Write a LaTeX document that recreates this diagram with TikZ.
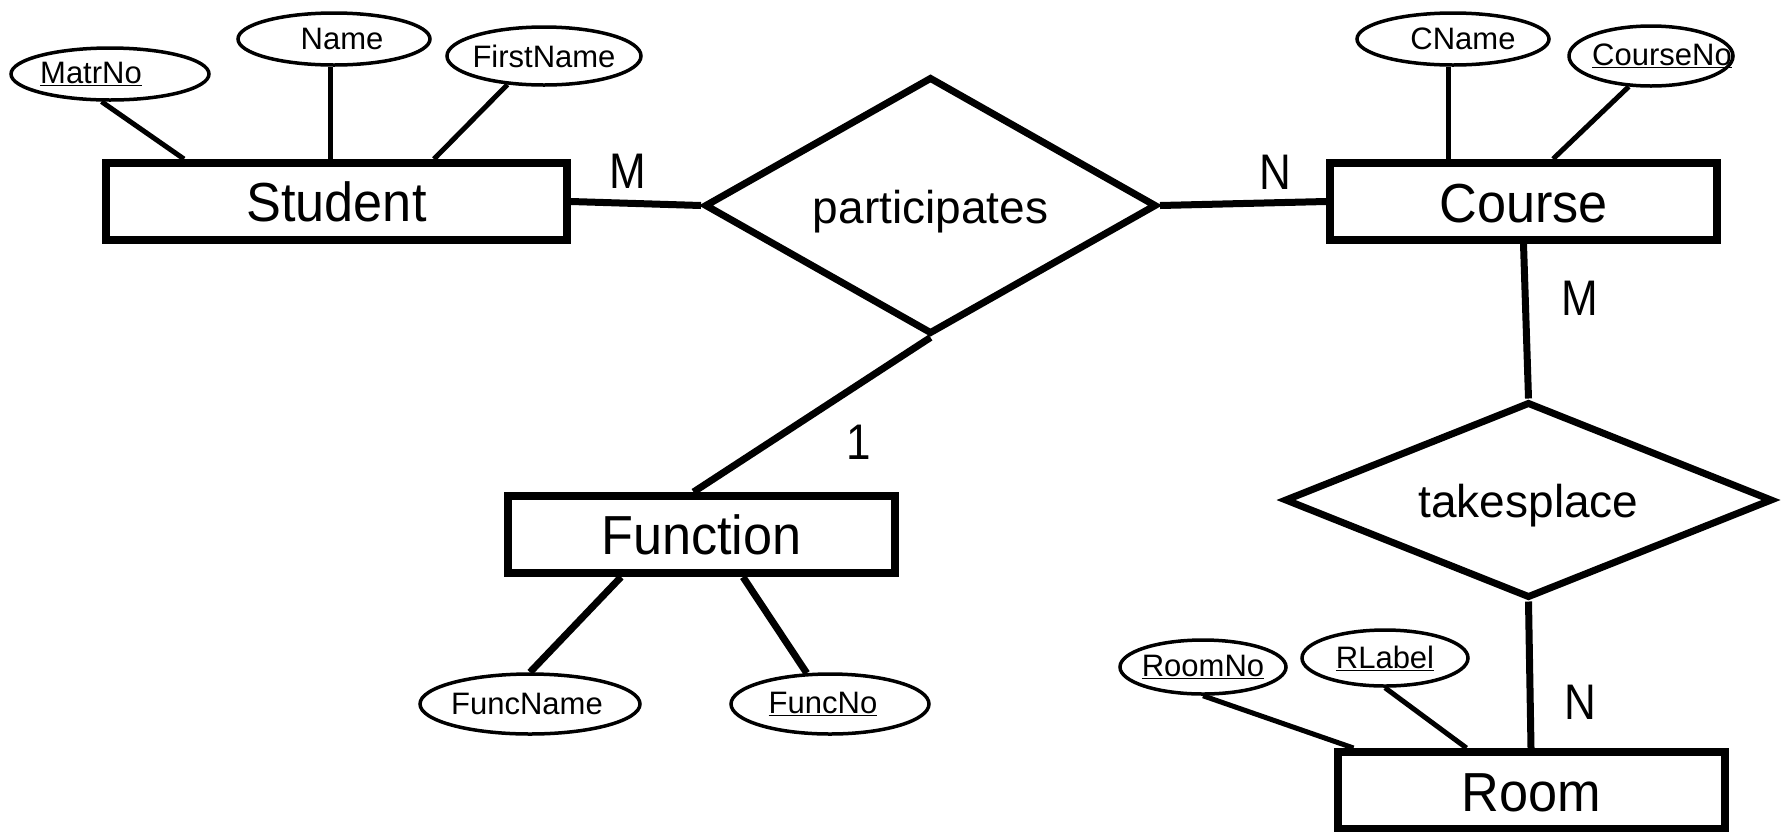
\documentclass[tikz,border=0pt]{standalone}
\usepackage{fontspec}
\setmainfont{Liberation Sans}
\newfontfamily\entfont[FakeStretch=0.95]{Liberation Sans}
\newfontfamily\cardfont[FakeStretch=0.88]{Liberation Sans}
\usetikzlibrary{shapes.geometric}
\newcommand{\nz}[1]{\makebox[0pt]{#1}}
\newcommand{\lowr}[2]{\raisebox{-#1}[\height][\depth]{#2}}
\begin{document}
\begin{tikzpicture}[x=1pt,y=-1pt,
 entity/.style={draw, line width=8pt, minimum width=387pt, minimum height=77pt, inner sep=0pt, font=\entfont\fontsize{55}{60}\selectfont},
 rel/.style={draw, diamond, line width=7pt, inner sep=0pt, font=\fontsize{46}{50}\selectfont},
 attr/.style={draw, ellipse, line width=3.5pt, inner sep=0pt, font=\fontsize{31}{34}\selectfont},
 conn/.style={line width=7pt},
 aconn/.style={line width=5pt},
 fconn/.style={line width=7pt},
 card/.style={font=\cardfont\fontsize{50}{54}\selectfont, inner sep=0pt}]
\useasboundingbox (0,0) rectangle (1785,831);
\clip (0,0) rectangle (1785,831);

% entities
\node[entity, minimum width=461pt] (student) at (336.5,201.5) {Student};
\node[entity] (course) at (1523.5,201.5) {\lowr{2pt}{Course}};
\node[entity] (function) at (701.5,534.5) {Function};
\node[entity] (room) at (1531,790.5) {\lowr{2pt}{Room}};

% relationships
\node[rel, minimum width=452pt, minimum height=257pt, aspect=1.8] (part) at (930.5,205.5) {\lowr{6pt}{participates}};
\node[rel, minimum width=488pt, minimum height=196pt, aspect=2.5] (takes) at (1528.5,500) {\lowr{6pt}{takesplace}};

% attributes
\node[attr, minimum width=198pt, minimum height=52pt] (matrno) at (110,74) {\nz{\hspace{-38pt}\underline{MatrNo}}};
\node[attr, minimum width=192pt, minimum height=52pt] (name) at (334,39) {\nz{\hspace{16pt}Name}};
\node[attr, minimum width=194pt, minimum height=58pt] (firstname) at (544,56) {\nz{FirstName}};
\node[attr, minimum width=192pt, minimum height=52pt] (cname) at (1453,39) {\nz{\hspace{20pt}CName}};
\node[attr, minimum width=164pt, minimum height=60pt] (courseno) at (1651,56) {\nz{\hspace{22pt}\underline{CourseNo}}};
\node[attr, minimum width=220pt, minimum height=60pt] (funcname) at (530,704) {\nz{\hspace{-6pt}FuncName}};
\node[attr, minimum width=198pt, minimum height=60pt] (funcno) at (830,704) {\nz{\hspace{-14pt}\underline{FuncNo}}};
\node[attr, minimum width=166pt, minimum height=54pt] (roomno) at (1203,667) {\nz{\underline{RoomNo}}};
\node[attr, minimum width=166pt, minimum height=56pt] (rlabel) at (1385,658) {\nz{\underline{RLabel}}};

% relationship connectors
\draw[conn] (student.east) -- (part.west);
\draw[conn] (part.east) -- (course.west);
\draw[conn] (part.south) -- ([xshift=-8pt]function.north);
\draw[conn] (course.south) -- (takes.north);
\draw[conn] (takes.south) -- (room.north);

% attribute connectors
\draw[aconn] (matrno.253) -- ([xshift=82pt]student.north west);
\draw[aconn] ([xshift=-4pt]name.south) -- ([xshift=-4pt]name.south |- student.north);
\draw[aconn] (firstname.218) -- ([xshift=332pt]student.north west);
\draw[aconn] ([xshift=-5pt]cname.south) -- ([xshift=-5pt]cname.south |- course.north);
\draw[aconn] (courseno.234) -- ([xshift=227pt]course.north west);
\draw[fconn] ([xshift=117pt]function.south west) -- (funcname.north);
\draw[fconn] ([xshift=239pt]function.south west) -- (funcno.127);
\draw[aconn] (roomno.south) -- ([xshift=20pt]room.north west);
\draw[aconn] (rlabel.south) -- ([xshift=133pt]room.north west);

% cardinalities
\node[card] (c1) at (628,171) {M};
\node[card] (c2) at (1275,172) {N};
\node[card] (c3) at (1580,298) {M};
\node[card] (c4) at (859,442) {1};
\node[card] (c5) at (1580,702) {N};
\end{tikzpicture}
\end{document}
